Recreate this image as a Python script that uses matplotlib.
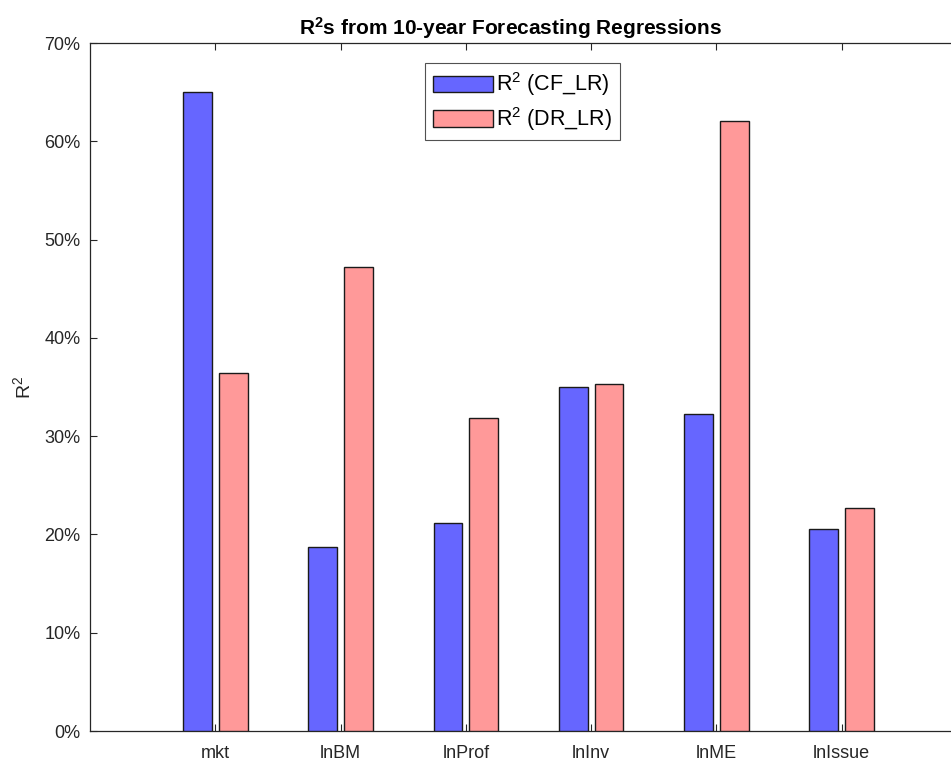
import matplotlib
matplotlib.use("Agg")
import matplotlib.pyplot as plt
import numpy as np
from matplotlib.ticker import FuncFormatter

plt.rcParams['font.family'] = ['Liberation Sans', 'DejaVu Sans']
plt.rcParams['mathtext.fontset'] = 'custom'
plt.rcParams['mathtext.rm'] = 'Liberation Sans'
plt.rcParams['mathtext.it'] = 'Liberation Sans:italic'
plt.rcParams['mathtext.bf'] = 'Liberation Sans:bold'

categories = ["mkt", "lnBM", "lnProf", "lnInv", "lnME", "lnIssue"]
r2_cf = [65.0, 18.7, 21.2, 35.0, 32.3, 20.6]
r2_dr = [36.4, 47.2, 31.8, 35.3, 62.1, 22.7]
series_labels = [r"R$^\mathrm{2}$ (CF_LR)", r"R$^\mathrm{2}$ (DR_LR)"]
yticks = [0, 10, 20, 30, 40, 50, 60, 70]

blue = "#6666FF"
pink = "#FF9999"
axis_col = "#262626"

W, H = 951, 760
fig = plt.figure(figsize=(W / 100, H / 100), dpi=100)
# axes spans x = 0..7 data units; right edge runs past the canvas
ax_left, ax_right, ax_top, ax_bot = 90, 967, 43, 731
ax = fig.add_axes([ax_left / W, (H - ax_bot) / H,
                   (ax_right - ax_left) / W, (ax_bot - ax_top) / H])

x = np.arange(1, len(categories) + 1)
bw = 0.229
off = 0.143
ax.bar(x - off, r2_cf, width=bw, color=blue, edgecolor="#1a1a1a",
       linewidth=1.0, label=series_labels[0], zorder=3)
ax.bar(x + off, r2_dr, width=bw, color=pink, edgecolor="#1a1a1a",
       linewidth=1.0, label=series_labels[1], zorder=3)

ax.set_xlim(0, 7)
ax.set_ylim(0, 70)
ax.set_xticks(x)
ax.set_xticklabels(categories)
ax.set_yticks(yticks)
ax.yaxis.set_major_formatter(FuncFormatter(lambda v, p: f"{v:.0f}%"))

for s in ax.spines.values():
    s.set_color(axis_col)
    s.set_linewidth(0.9)
ax.tick_params(axis="both", direction="in", length=5, width=0.8,
               colors=axis_col, labelsize=13, top=True, right=True,
               labelcolor="#262626")
ax.tick_params(axis="x", pad=10)
ax.tick_params(axis="y", pad=7)

ax.set_ylabel(r"R$^\mathrm{2}$", fontsize=14, color="#262626", labelpad=7)
ax.set_title(r"R$^\mathbf{2}$s from 10-year Forecasting Regressions",
             fontsize=15, fontweight="bold", color="black", pad=6,
             x=(511 - ax_left) / (ax_right - ax_left))

leg = ax.legend(loc="upper left",
                bbox_to_anchor=(425 / W, 1 - 63 / H),
                bbox_transform=fig.transFigure,
                fontsize=15.5, frameon=True, fancybox=False,
                edgecolor="#262626", handlelength=2.8, handleheight=0.8,
                borderpad=0.35, labelspacing=0.3, handletextpad=0.15,
                borderaxespad=0)
leg.get_frame().set_linewidth(0.8)

fig.savefig("out.png", dpi=100)
